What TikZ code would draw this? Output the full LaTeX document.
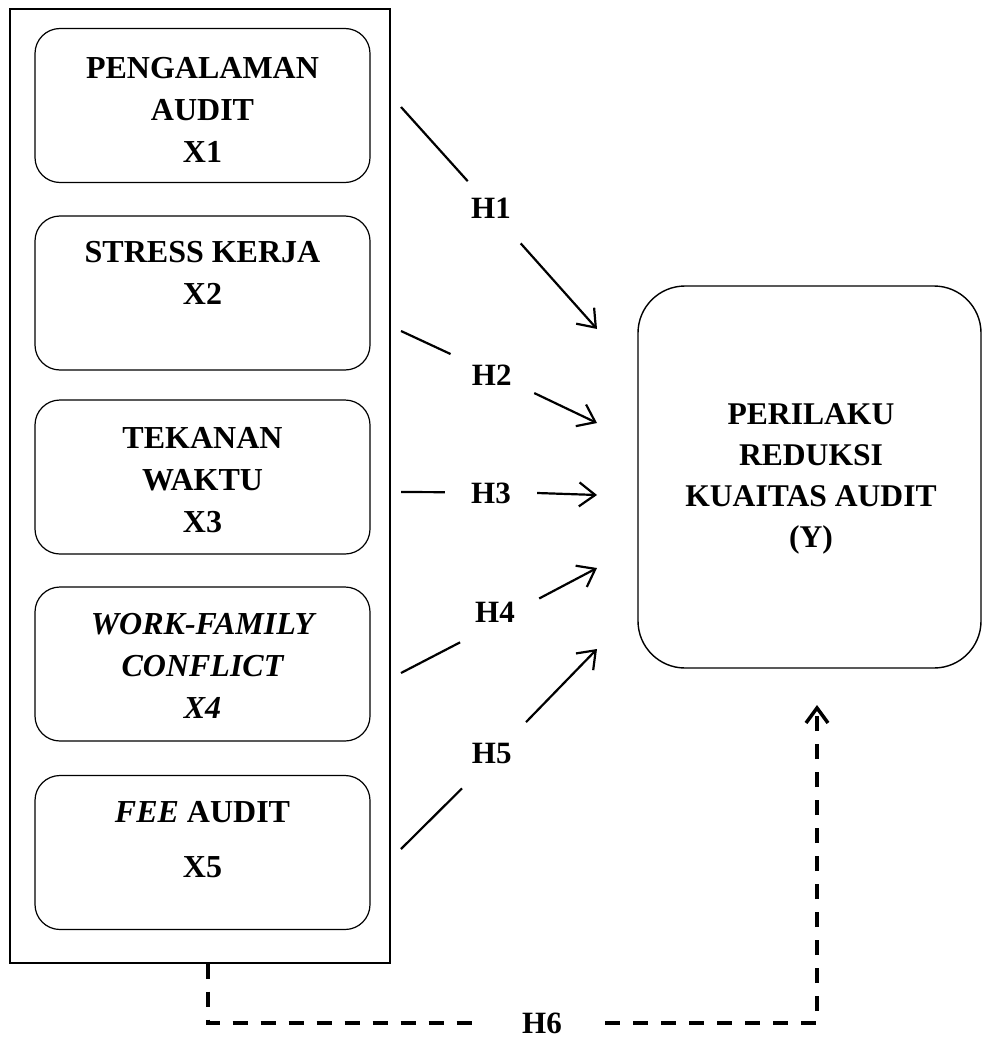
\documentclass[tikz,border=0pt]{standalone}
\usepackage{fontspec}
\setmainfont{Liberation Serif}
\usetikzlibrary{arrows.meta}
\begin{document}
\begin{tikzpicture}[x=1pt,y=-1pt,
  box/.style={draw, line width=1.2pt, rounded corners=25pt, minimum width=335pt, minimum height=154pt, inner sep=0pt},
  lbl/.style={align=center, inner sep=0pt, font=\fontsize{32}{42}\selectfont\bfseries},
  hlab/.style={circle, minimum size=92pt, inner sep=0pt, font=\fontsize{31}{37}\selectfont\bfseries},
  conn/.style={line width=2.2pt},
  arr/.style={conn, -{Straight Barb[length=16pt,width=24pt]}},
  dsh/.style={line width=3.5pt, dash pattern=on 15pt off 13pt},
  darr/.style={dsh, -{Straight Barb[length=15pt,width=22pt]}}
]
\useasboundingbox (0,0) rectangle (982,1038);
\fill[white] (0,0) rectangle (982,1038);

% outer group
\node[draw, line width=1.2pt, minimum width=380pt, minimum height=954pt, inner sep=0pt] (grp) at (200,486) {};

% left boxes
\node[box] (x1) at (202.5,105.5) {};
\node[box] (x2) at (202.5,293) {};
\node[box] (x3) at (202.5,477) {};
\node[box] (x4) at (202.5,664) {};
\node[box] (x5) at (202.5,852.5) {};

\node[lbl] (t1) at (202.5,110) {PENGALAMAN\\AUDIT\\X1};
\node[lbl] (t2) at (202.5,273) {STRESS KERJA\\X2};
\node[lbl] (t3) at (202.5,480) {TEKANAN\\WAKTU\\X3};
\node[lbl] (t4) at (202.5,665.5) {\itshape WORK-FAMILY\\\itshape CONFLICT\\\itshape X4};
\node[lbl] (t5) at (202.5,840) {\itshape FEE\upshape{} AUDIT\\[13pt]X5};

% dependent variable
\node[draw, line width=1.4pt, rounded corners=47pt, minimum width=343pt, minimum height=382pt, inner sep=0pt] (y) at (809.5,477) {};
\node[lbl, font=\fontsize{31.6}{41}\selectfont\bfseries] (ty) at (811,479) {PERILAKU\\REDUKSI\\KUAITAS AUDIT\\(Y)};

% hypothesis labels
\node[hlab] (h1) at (491,208) {H1};
\node[hlab] (h2) at (491.7,375) {H2};
\node[hlab] (h3) at (491,493) {H3};
\node[hlab] (h4) at (495,612) {H4};
\node[hlab] (h5) at (491.7,753) {H5};

% free ends
\coordinate (s1) at (401,107);  \coordinate (e1) at (597,329);
\coordinate (s2) at (401,331);  \coordinate (e2) at (597,423);
\coordinate (s3) at (401,492);  \coordinate (e3) at (597,495);
\coordinate (s4) at (401,673);  \coordinate (e4) at (597,568);
\coordinate (s5) at (401,849);  \coordinate (e5) at (597,649);

\draw[conn] (s1) -- ([shift={(7,8)}]h1.131);
\draw[arr] (h1.310) -- (e1);
\draw[conn] (s2) -- (h2.153);
\draw[arr] (h2.337) -- (e2);
\draw[conn] (s3) -- (h3.179);
\draw[arr] (h3.0) -- (e3);
\draw[conn] (s4) -- (h4.221);
\draw[arr] (h4.17) -- (e4);
\draw[conn] (s5) -- (h5.230);
\draw[arr] (h5.42) -- (e5);

% H6 dashed connector
\node[font=\fontsize{31}{37}\selectfont\bfseries, inner xsep=43pt, inner ysep=0pt] (h6) at (542,1023) {H6};
\coordinate (e6) at (817,705);
\draw[dsh] ([xshift=8pt]grp.south) |- (h6.west);
\draw[darr] (h6.east) -| (e6);
\end{tikzpicture}
\end{document}
